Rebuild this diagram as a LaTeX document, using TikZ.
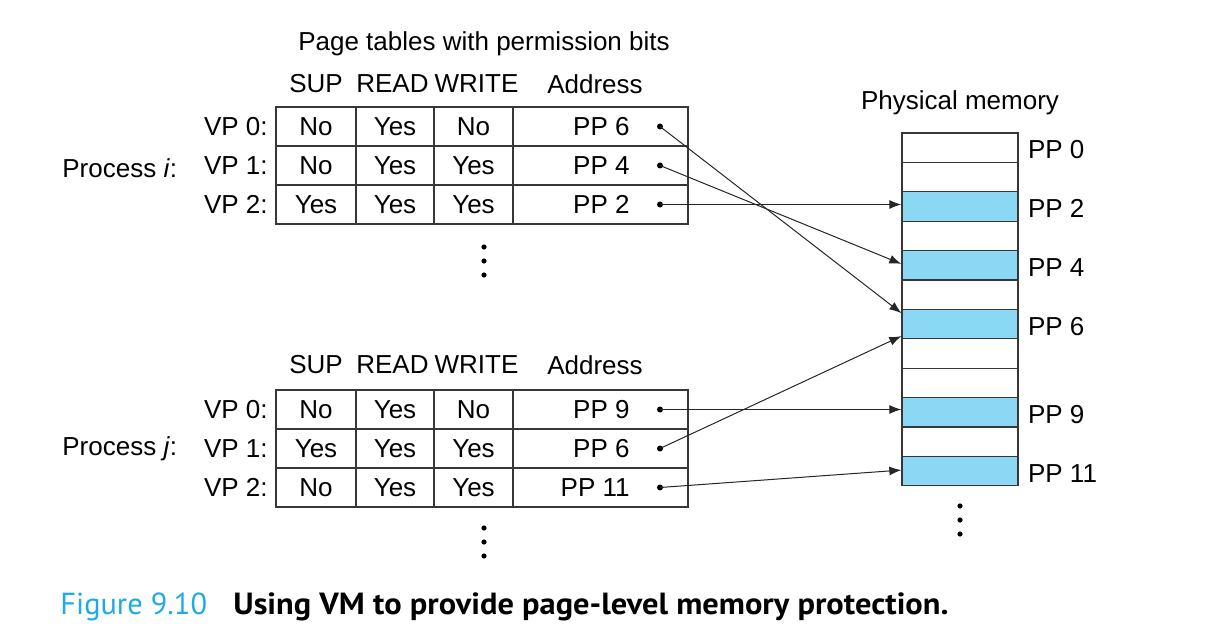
\documentclass[tikz,border=0pt]{standalone}
\usepackage{fontspec}
\setmainfont{Liberation Sans}
\newfontfamily\capfont{PT Sans}
\usetikzlibrary{arrows.meta,calc}
\definecolor{memblue}{RGB}{138,216,244}
\definecolor{figcyan}{RGB}{30,170,228}
\definecolor{linegray}{RGB}{55,55,55}
\newcommand\ptrow[7]{%
  \node[cell,minimum width=40pt] (#1s) at (316,#2) {#3};
  \node[cell,minimum width=39pt] (#1r) at (395,#2) {#4};
  \node[cell,minimum width=39.5pt] (#1w) at (473.5,#2) {#5};
  \node[cell,minimum width=87.5pt] (#1a) at (600.5,#2) {};
  \node[anchor=east,inner sep=0] (#1t) at (630,#2) {PP #6};
  \node[dotnode] (#1d) at (660,#2) {};
  \node[anchor=east,inner sep=0] (#1v) at (268,#2) {VP #7:};
}
\begin{document}
\begin{tikzpicture}[x=0.5pt,y=-0.5pt,
  font=\fontsize{13}{15}\selectfont,
  cell/.style={draw=linegray,line width=0.65pt,inner sep=0,minimum height=19.5pt},
  memcell/.style={draw=linegray,line width=0.65pt,inner sep=0,minimum width=58pt,minimum height=14.7pt},
  dotnode/.style={circle,fill=black,inner sep=0,minimum size=3pt},
  arr/.style={-{Latex[length=6pt,width=4.5pt]},line width=0.5pt,draw=black!85},
  lbl/.style={inner sep=0}]
\useasboundingbox (0,0) rectangle (1222,642);
% titles
\node[lbl] (title) at (484,44) {Page tables with permission bits};
\node[lbl] (pm) at (960,103) {Physical memory};
% headers table 1
\node[lbl] (h1s) at (316,84) {SUP};
\node[lbl] (h1r) at (392.5,84) {READ};
\node[lbl] (h1w) at (476.5,84) {WRITE};
\node[lbl] (h1a) at (595,84) {Address};
% headers table 2
\node[lbl] (h2s) at (316,365) {SUP};
\node[lbl] (h2r) at (392.5,365) {READ};
\node[lbl] (h2w) at (476.5,365) {WRITE};
\node[lbl] (h2a) at (595,365) {Address};
% table 1
\ptrow{ta}{126.5}{No}{Yes}{No}{6}{0}
\ptrow{tb}{165.5}{No}{Yes}{Yes}{4}{1}
\ptrow{tc}{204.5}{Yes}{Yes}{Yes}{2}{2}
% table 2
\ptrow{ua}{409.5}{No}{Yes}{No}{9}{0}
\ptrow{ub}{448.5}{Yes}{Yes}{Yes}{6}{1}
\ptrow{uc}{487.5}{No}{Yes}{Yes}{11}{2}
% process labels
\node[anchor=base west,inner sep=0] (pi) at (62,177) {Process \textit{i}:};
\node[anchor=base west,inner sep=0] (pj) at (62,455) {Process \textit{j}:};
% memory
\foreach \i/\c in {0/white,1/white,2/memblue,3/white,4/memblue,5/white,6/memblue,7/white,8/white,9/memblue,10/white,11/memblue}
  \node[memcell,fill=\c] (m\i) at (960,{147.7+29.4*\i}) {};
\foreach \i in {0,2,4,6,9,11}
  \node[anchor=west,inner sep=0] (l\i) at ([xshift=4.5pt,yshift=-1pt]m\i.east) {PP \i};
% ellipses
\foreach \y in {247,261,275} \fill (484,\y) circle (1.3pt);
\foreach \y in {528,542,556} \fill (484,\y) circle (1.3pt);
\foreach \y in {506,520,534} \fill (960,\y) circle (1.3pt);
% arrows
\draw[arr] (tad.center) -- ([yshift=5.5pt]m6.west);
\draw[arr] (tbd.center) -- ([yshift=0.7pt]m4.west);
\draw[arr] (tcd.center) -- (tcd.center -| m2.west);
\draw[arr] (uad.center) -- (uad.center -| m9.west);
\draw[arr] (ubd.center) -- ([yshift=-6pt]m6.west);
\draw[arr] (ucd.center) -- ([yshift=0.5pt]m11.west);
% caption
\node[anchor=base west,inner sep=0,text=figcyan,font=\capfont\fontsize{15.2}{18}\selectfont] (fig) at (60,614) {Figure 9.10};
\node[anchor=base west,inner sep=0,xscale=1.06,transform shape,font=\capfont\bfseries\fontsize{15.3}{18}\selectfont] (cap) at (233,614) {Using VM to provide page-level memory protection.};
\end{tikzpicture}
\end{document}
